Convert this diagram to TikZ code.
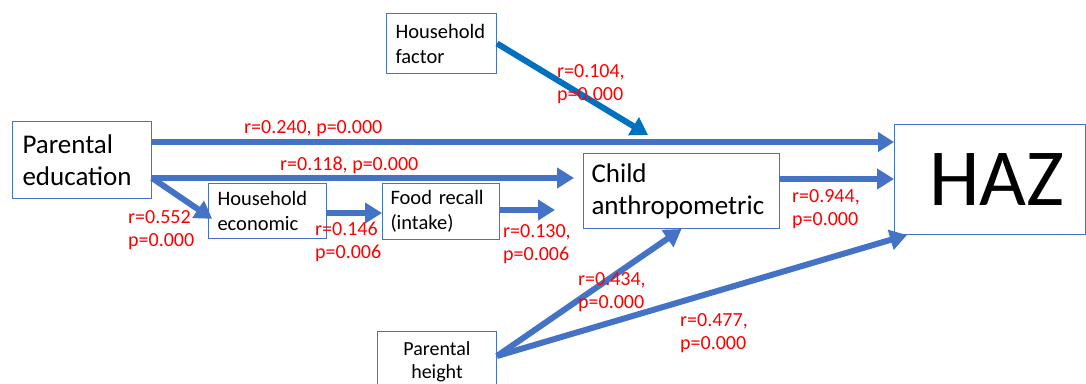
\documentclass[tikz,border=0pt]{standalone}
\usepackage{fontspec}
\setmainfont{Carlito}
\usetikzlibrary{arrows.meta}
\definecolor{arrblue}{HTML}{4472C4}
\definecolor{darkblue}{HTML}{0070C0}
\definecolor{lblred}{HTML}{FF0000}
\begin{document}
\begin{tikzpicture}[x=1pt,y=-1pt,
 box/.style={draw=arrblue, line width=1pt, fill=white, rectangle, anchor=north west, align=left, inner ysep=0pt},
 conn/.style={draw=arrblue, line width=6pt, -{Triangle[length=17pt,width=20pt]}},
 lbl/.style={text=lblred, font=\fontsize{20}{23}\selectfont, align=left, anchor=west, inner sep=0pt}]
\useasboundingbox (0,0) rectangle (1086,383);
% boxes
\node[box, minimum width=139, minimum height=77, text width=119, inner xsep=10, font=\fontsize{27}{32}\selectfont] (pe) at (12,121) {Parental\\education};
\node[box, minimum width=118, minimum height=55, text width=100, inner xsep=9, font=\fontsize{20.5}{25}\selectfont] (he) at (208,183) {Household\\economic};
\node[box, minimum width=117, minimum height=56, text width=101, inner xsep=8, font=\fontsize{20.5}{25}\selectfont] (fr) at (382,183) {Food recall\\(intake)};
\node[box, minimum width=196, minimum height=75, text width=180, inner xsep=8, font=\fontsize{27}{32}\selectfont] (ca) at (583,153) {Child\\anthropometric};
\node[box, minimum width=191, minimum height=110, text width=175, inner xsep=8, align=center, font=\fontsize{81}{90}\selectfont] (haz) at (894,124) {\hspace*{14pt}HAZ};
\node[box, minimum width=110, minimum height=60, text width=92, inner xsep=9, font=\fontsize{20.5}{25}\selectfont] (hf) at (386,13) {Household\\factor};
\node[box, minimum width=119, minimum height=60, text width=105, inner xsep=7, align=center, font=\fontsize{20}{23}\selectfont] (ph) at (377,331) {Parental\\height};
% free ends
\coordinate (frend) at (555,210);
\coordinate (hfend) at (648,135);
% connectors
\draw[conn, line width=6.5pt, -{Triangle[length=16pt,width=19pt]}] (pe.east |- 0,142) -- (haz.west |- 0,142);
\draw[conn, shorten >=9pt] (pe.east |- 0,178) -- (ca.west |- 0,178);
\draw[conn, shorten >=-5pt] (pe.east |- 0,178) -- (he.west |- 0,216);
\draw[conn] (he.east |- 0,213) -- (fr.west |- 0,213);
\draw[conn] (fr.east |- 0,210) -- (frend);
\draw[conn] (ca.east |- 0,179) -- (haz.west |- 0,179);
\draw[conn] ([yshift=-25pt]ph.north east) -- (ca.south);
\draw[conn] ([yshift=-25pt]ph.north east) -- ([xshift=13pt]haz.south west);
\draw[conn, draw=darkblue] (hf.east) -- (hfend);
% labels
\node[lbl] (l1) at (244,129) {r=0.240, p=0.000};
\node[lbl] (l2) at (280,165) {r=0.118, p=0.000};
\node[lbl] (l3) at (128,230) {r=0.552\\p=0.000};
\node[lbl] (l4) at (315,242) {r=0.146\\p=0.006};
\node[lbl] (l5) at (503,244) {r=0.130,\\p=0.006};
\node[lbl] (l6) at (557,84) {r=0.104,\\p=0.000};
\node[lbl] (l7) at (792,209) {r=0.944,\\p=0.000};
\node[lbl] (l8) at (578,292) {r=0.434,\\p=0.000};
\node[lbl] (l9) at (680,333) {r=0.477,\\p=0.000};
\end{tikzpicture}
\end{document}
